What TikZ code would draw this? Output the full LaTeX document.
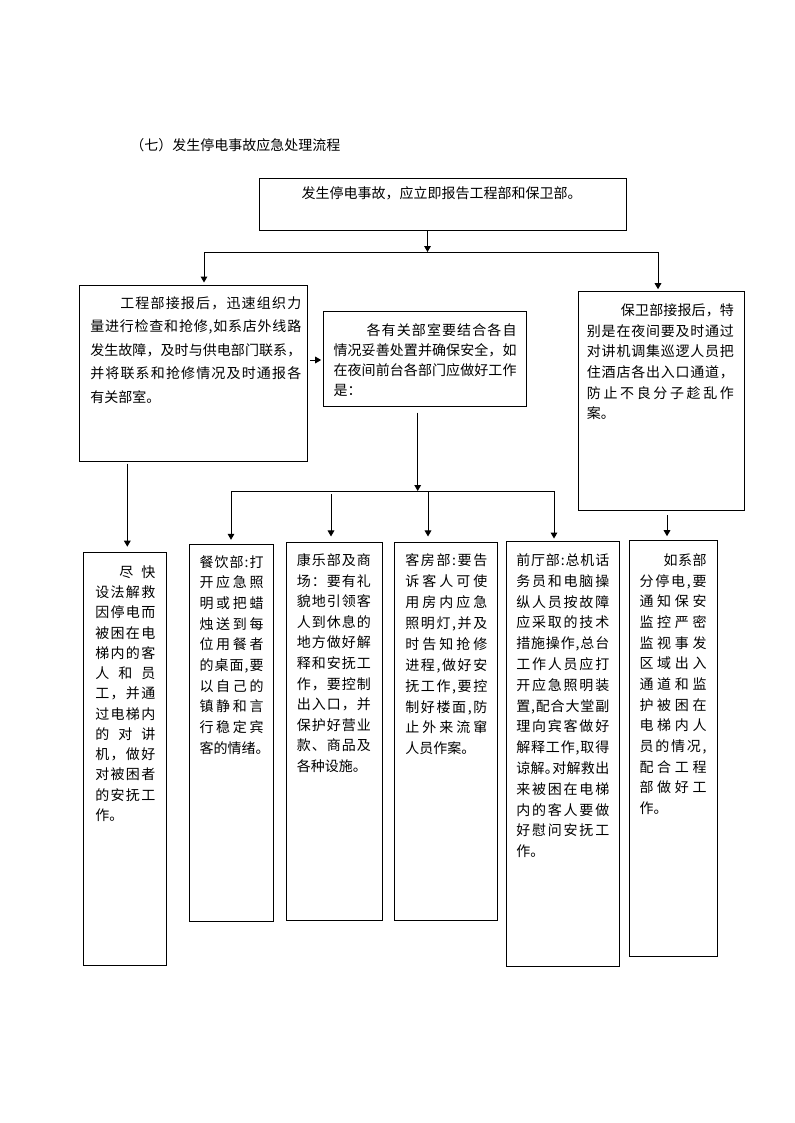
\documentclass[tikz,border=0pt]{standalone}
\usepackage{fontspec}
\setmainfont{Noto Sans CJK SC}
\usetikzlibrary{arrows.meta,fit}
% spread characters of a line over the full width
\def\spA#1{#1\spB}
\def\spB#1{\ifx#1\relax\else\hfil#1\expandafter\spB\fi}
\newcommand\jl[1]{\hbox to\hsize{\spA#1\relax}}
\newcommand\jli[2]{\hbox to\hsize{\hskip#1\spA#2\relax}}
\newcommand\lastl[1]{\hbox{#1}}
\newcommand\sqd{\makebox[0.5em][l]{。}}
\newcommand\tblock[3]{\vtop{\hsize=#1\baselineskip=#2\lineskip=0pt\lineskiplimit=-20pt\parindent=0pt\relax #3}}
\tikzset{
  box/.style={draw, inner sep=0pt, line width=0.75pt},
  txt/.style={anchor=base west, inner sep=0pt},
  arr/.style={-{Triangle[width=5pt,length=4.5pt]}, line width=0.75pt},
  ln/.style={line width=0.75pt}
}
\begin{document}
\begin{tikzpicture}[x=0.75pt,y=-0.75pt,font=\fontsize{10.5pt}{15pt}\selectfont]
\useasboundingbox (0,0) rectangle (794,1123);

% title
\node[txt] (title) at (130,150.5) {（七）发生停电事故应急处理流程};

% boxes
\node[box, fit={(259,179) (626.5,231)}] (top) {};
\node[box, fit={(79.3,285) (307.7,461.5)}] (gcb) {};
\node[box, fit={(323.3,311.7) (526.7,406)}] (mid) {};
\node[box, fit={(578.3,291.7) (744,510)}] (bwb) {};
\node[box, fit={(83.3,552.5) (166.7,965)}] (jk) {};
\node[box, fit={(189.3,544.3) (273.3,921.7)}] (cy) {};
\node[box, fit={(286.7,542.3) (382.3,920)}] (kl) {};
\node[box, fit={(394.3,542.3) (497.3,920)}] (kf) {};
\node[box, fit={(506.7,541.7) (619.3,966)}] (qt) {};
\node[box, fit={(629.3,540.7) (717.7,956)}] (rx) {};

% texts
\node[anchor=base, inner sep=0pt] (ttop) at (441.5,198.5) {发生停电事故，应立即报告工程部和保卫部。};

\node[txt] (tgcb) at (90,308.5) {\tblock{158.25pt}{17.6pt}{%
\jli{22.5pt}{工程部接报后，迅速组织力}
\jl{量进行检查和抢修,如系店外线路}
\jl{发生故障，及时与供电部门联系，}
\jl{并将联系和抢修情况及时通报各}
\lastl{有关部室。}}};

\node[txt] (tmid) at (333.3,335.5) {\tblock{137.25pt}{15pt}{%
\jli{24.75pt}{各有关部室要结合各自}
\jl{情况妥善处置并确保安全，如}
\jl{在夜间前台各部门应做好工作}
\lastl{是：}}};

\node[txt] (tbwb) at (586.7,315.5) {\tblock{110.25pt}{15.5pt}{%
\jli{25.5pt}{保卫部接报后，特}
\jl{别是在夜间要及时通过}
\jl{对讲机调集巡逻人员把}
\jl{住酒店各出入口通道，}
\jl{防止不良分子趁乱作}
\lastl{案。}}};

\node[txt] (tjk) at (95,577.2) {\tblock{45pt}{15.2pt}{%
\jli{18pt}{尽快}
\jl{设法解救}
\jl{因停电而}
\jl{被困在电}
\jl{梯内的客}
\jl{人和员}
\jl{工，并通}
\jl{过电梯内}
\jl{的对讲}
\jl{机，做好}
\jl{对被困者}
\jl{的安抚工}
\lastl{作。}}};

\node[txt] (tcy) at (199.3,567.2) {\tblock{48pt}{15.5pt}{%
\jl{餐饮部:打}
\jl{开应急照}
\jl{明或把蜡}
\jl{烛送到每}
\jl{位用餐者}
\jl{的桌面,要}
\jl{以自己的}
\jl{镇静和言}
\jl{行稳定宾}
\lastl{客的情绪\sqd}}};

\node[txt] (tkl) at (296.7,565.5) {\tblock{55.5pt}{15.45pt}{%
\jl{康乐部及商}
\jl{场：要有礼}
\jl{貌地引领客}
\jl{人到休息的}
\jl{地方做好解}
\jl{释和安抚工}
\jl{作，要控制}
\jl{出入口，并}
\jl{保护好营业}
\jl{款、商品及}
\lastl{各种设施。}}};

\node[txt] (tkf) at (405,565.5) {\tblock{61.5pt}{15.7pt}{%
\jl{客房部:要告}
\jl{诉客人可使}
\jl{用房内应急}
\jl{照明灯,并及}
\jl{时告知抢修}
\jl{进程,做好安}
\jl{抚工作,要控}
\jl{制好楼面,防}
\jl{止外来流窜}
\lastl{人员作案。}}};

\node[txt] (tqt) at (516,565.5) {\tblock{69.75pt}{15.6pt}{%
\jl{前厅部:总机话}
\jl{务员和电脑操}
\jl{纵人员按故障}
\jl{应采取的技术}
\jl{措施操作,总台}
\jl{工作人员应打}
\jl{开应急照明装}
\jl{置,配合大堂副}
\jl{理向宾客做好}
\jl{解释工作,取得}
\jl{谅解\sqd 对解救出}
\jl{来被困在电梯}
\jl{内的客人要做}
\jl{好慰问安抚工}
\lastl{作。}}};

\node[txt] (trx) at (639.3,565.5) {\tblock{50.25pt}{15.5pt}{%
\jli{18pt}{如系部}
\jl{分停电,要}
\jl{通知保安}
\jl{监控严密}
\jl{监视事发}
\jl{区域出入}
\jl{通道和监}
\jl{护被困在}
\jl{电梯内人}
\jl{员的情况,}
\jl{配合工程}
\jl{部做好工}
\lastl{作。}}};

% connector coordinates
\coordinate (j1) at (427.5,252);
\coordinate (hl) at (204,252);
\coordinate (hr) at (658,252);
\coordinate (m1) at (310,360);
\coordinate (m2) at (417.7,412.5);
\coordinate (j2) at (417.7,491);
\coordinate (d1) at (231,491);
\coordinate (d2) at (331,494);
\coordinate (d3) at (428,491);
\coordinate (d4) at (554,491);
\coordinate (g1) at (127.3,463.5);
\coordinate (b1) at (667,515);

% connectors
\draw[arr] (j1 |- top.south) -- (j1);
\draw[ln] (hl) -- (hr);
\draw[arr, shorten >=1.5pt] (hl) -- (hl |- gcb.north);
\draw[arr, shorten >=1.5pt] (hr) -- (hr |- bwb.north);
\draw[arr, shorten >=1.2pt] (m1) -- (m1 -| mid.west);
\draw[arr] (m2) -- (j2);
\draw[ln] (d1) -- (d4);
\draw[arr, shorten >=3pt] (d1) -- (d1 |- cy.north);
\draw[arr, shorten >=4pt] (d2) -- (d2 |- kl.north);
\draw[arr, shorten >=4pt] (d3) -- (d3 |- kf.north);
\draw[arr, shorten >=2pt] (d4) -- (d4 |- qt.north);
\draw[arr, shorten >=4pt] (g1) -- (g1 |- jk.north);
\draw[arr, shorten >=3pt] (b1) -- (b1 |- rx.north);
\end{tikzpicture}
\end{document}
